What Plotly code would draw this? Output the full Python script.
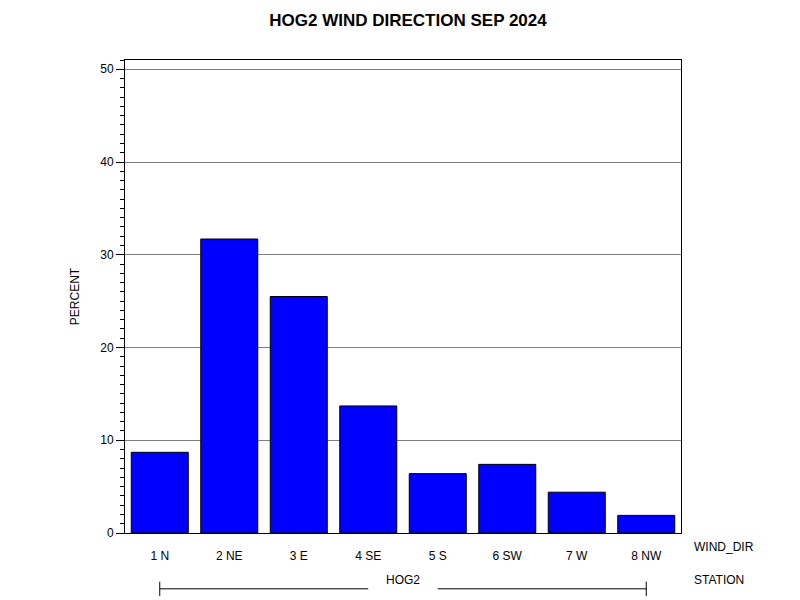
import plotly.graph_objects as go

wind_dir = ["1 N", "2 NE", "3 E", "4 SE", "5 S", "6 SW", "7 W", "8 NW"]
percent = [8.7, 31.7, 25.5, 13.7, 6.4, 7.4, 4.4, 1.9]
station = "HOG2"

fig = go.Figure()
fig.add_trace(go.Bar(x=list(range(len(wind_dir))), y=percent, marker_color="#0000ff",
                     marker_line_color="black", marker_line_width=1, width=0.82))

fnt = dict(family="Liberation Sans, Arial", size=12, color="black")
fig.update_layout(
    width=800, height=600, plot_bgcolor="white", paper_bgcolor="white",
    margin=dict(l=117, r=127, t=52, b=75, autoexpand=False), showlegend=False,
    title=dict(text="<b>HOG2 WIND DIRECTION SEP 2024</b>", x=0.5, y=0.99, yanchor="top",
               font=dict(family="Liberation Sans, Arial", size=17, color="black")),
    font=fnt,
)
fig.update_xaxes(range=[-0.5, 7.5], tickvals=list(range(len(wind_dir))), ticktext=wind_dir,
                 showline=True, linecolor="black", mirror=True, ticks="", showgrid=False,
                 tickfont=fnt, ticklabelstandoff=12)
fig.update_yaxes(range=[0, 51], dtick=10, showline=True, linecolor="black", mirror=True,
                 ticks="outside", ticklen=8, tickcolor="black", gridcolor="#808080",
                 zeroline=False, title=dict(text="PERCENT", font=fnt, standoff=18),
                 minor=dict(dtick=1, ticks="outside", ticklen=4, tickcolor="black", showgrid=False),
                 tickfont=fnt)

ys = -0.118
fig.add_annotation(text="WIND_DIR", xref="paper", yref="paper", x=1.02, y=-0.049,
                   xanchor="left", showarrow=False, font=fnt)
fig.add_annotation(text="STATION", xref="paper", yref="paper", x=1.02, y=ys,
                   xanchor="left", showarrow=False, font=fnt)
fig.add_annotation(text=station, xref="x", yref="paper", x=3.5, y=ys,
                   showarrow=False, font=fnt)
for x0, x1 in [(0, 3.0), (4.0, 7)]:
    fig.add_shape(type="line", xref="x", yref="paper", x0=x0, x1=x1, y0=ys, y1=ys,
                  line=dict(color="black", width=1))
for xe in [0, 7]:
    fig.add_shape(type="line", xref="x", yref="paper", x0=xe, x1=xe, y0=ys + 0.015, y1=ys - 0.015,
                  line=dict(color="black", width=1))

fig.write_html("out.html")
